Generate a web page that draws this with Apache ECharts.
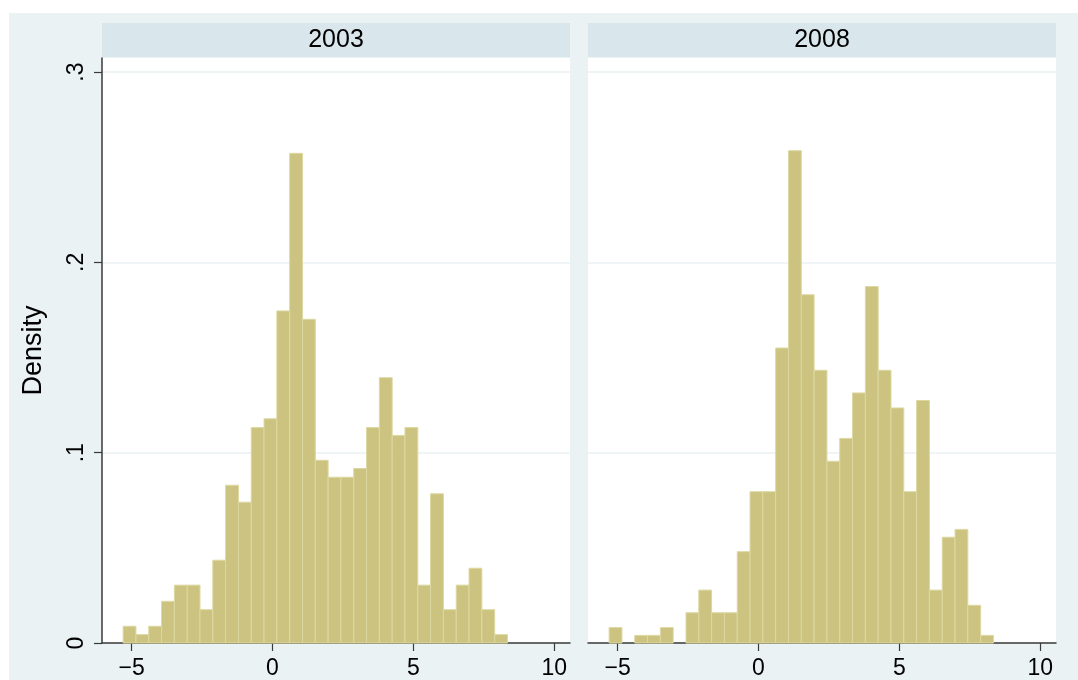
<!DOCTYPE html>
<html>
<head>
<meta charset="utf-8">
<script src="https://cdn.jsdelivr.net/npm/echarts@6/dist/echarts.min.js"></script>
<style>
html,body{margin:0;padding:0;background:#fff;}
#chart{width:1078px;height:680px;}
</style>
</head>
<body>
<div id="chart"></div>
<script>
// ---- data ----
const panels = ['2003', '2008'];
const binStart = -5.30;
const binWidth = 0.4547;
const density2003 = [0.0088, 0.0044, 0.0088, 0.0219, 0.0304, 0.0304, 0.0175, 0.0435, 0.0829, 0.0740,
                     0.1132, 0.1178, 0.1745, 0.2573, 0.1701, 0.0960, 0.0871, 0.0871, 0.0917, 0.1132,
                     0.1394, 0.1091, 0.1132, 0.0304, 0.0784, 0.0175, 0.0304, 0.0393, 0.0175, 0.0044];
const density2008 = [0.0081, 0, 0.0040, 0.0040, 0.0081, 0, 0.0159, 0.0278, 0.0159, 0.0159,
                     0.0480, 0.0795, 0.0795, 0.1550, 0.2587, 0.1830, 0.1433, 0.0955, 0.1075, 0.1314,
                     0.1873, 0.1433, 0.1235, 0.0795, 0.1274, 0.0278, 0.0556, 0.0597, 0.0198, 0.0040];
const xTicks = [-5, 0, 5, 10];
const yTicks = [0, 0.1, 0.2, 0.3];
const xMin = -6.05, xMax = 10.56;
const yMin = 0, yMax = 0.3074;
const yTitle = 'Density';

// ---- chart ----
const FONT = '"Liberation Sans", Arial, Helvetica, sans-serif';
const barFill = '#CBC37F';
const barLine = '#DDD8A2';
const axisColor = '#3a3a3a';
const gridColor = '#EAF2F3';

const chart = echarts.init(document.getElementById('chart'), null, {renderer: 'canvas'});

const grids = [
  {left: 102, top: 58, width: 468, height: 586},
  {left: 588, top: 58, width: 468, height: 586}
];

function fmtX(v) { return v < 0 ? '\u2212' + Math.abs(v) : String(v); }
function fmtY(v) { if (v === 0) return '0'; return String(Math.round(v * 10) / 10).replace(/^0/, ''); }

const xAxes = grids.map((g, i) => ({
  type: 'value', gridIndex: i, min: xMin, max: xMax,
  axisLine: {show: true, onZero: false, lineStyle: {color: axisColor, width: 1.5}},
  axisTick: {show: true, length: 8, customValues: xTicks, lineStyle: {color: axisColor, width: 1.2}},
  axisLabel: {show: true, customValues: xTicks, formatter: fmtX, margin: 14,
              fontFamily: FONT, fontSize: 23, color: '#000'},
  splitLine: {show: false}
}));

const yAxes = grids.map((g, i) => ({
  type: 'value', gridIndex: i, min: yMin, max: yMax,
  name: i === 0 ? yTitle : '', nameLocation: 'middle', nameRotate: 90, nameGap: 55,
  nameTextStyle: {fontFamily: FONT, fontSize: 27, color: '#000'},
  axisLine: {show: i === 0, onZero: false, lineStyle: {color: axisColor, width: 1.5}},
  axisTick: {show: i === 0, length: 8, customValues: yTicks, lineStyle: {color: axisColor, width: 1.2}},
  axisLabel: {show: i === 0, customValues: yTicks, formatter: fmtY, rotate: 90, margin: 14,
              fontFamily: FONT, fontSize: 23, color: '#000'},
  splitLine: {show: true, lineStyle: {color: gridColor, width: 1.5}}
}));

function renderBar(params, api) {
  const idx = api.value(0);
  const h = api.value(1);
  if (!h) return null;
  const x0 = binStart + idx * binWidth;
  const x1 = x0 + binWidth;
  const p0 = api.coord([x0, h]);
  const p1 = api.coord([x1, 0]);
  return {
    type: 'rect',
    shape: {x: p0[0], y: p0[1], width: p1[0] - p0[0], height: p1[1] - p0[1]},
    style: {fill: barFill, stroke: barLine, lineWidth: 1}
  };
}

const seriesData = [density2003, density2008];
const series = seriesData.map((arr, i) => ({
  type: 'custom', xAxisIndex: i, yAxisIndex: i,
  renderItem: renderBar,
  data: arr.map((v, k) => [k, v]),
  encode: {x: -1, y: 1},
  silent: true, animation: false
}));

const graphic = [
  {type: 'rect', z: -10, shape: {x: 9, y: 13, width: 1069, height: 667}, style: {fill: '#EAF2F3'}}
];
grids.forEach((g, i) => {
  graphic.push({type: 'rect', z: -8, shape: {x: g.left, y: g.top, width: g.width, height: g.height}, style: {fill: '#ffffff'}});
  graphic.push({type: 'rect', z: -8, shape: {x: g.left, y: 23, width: g.width, height: 34}, style: {fill: '#D9E6EB'}});
  graphic.push({type: 'text', z: 5, x: g.left + g.width / 2, y: 40,
    style: {text: panels[i], fontFamily: FONT, fontSize: 25, fill: '#000', align: 'center', verticalAlign: 'middle'}});
});

chart.setOption({
  animation: false,
  backgroundColor: '#ffffff',
  grid: grids,
  xAxis: xAxes,
  yAxis: yAxes,
  series: series,
  graphic: graphic
});
</script>
</body>
</html>
